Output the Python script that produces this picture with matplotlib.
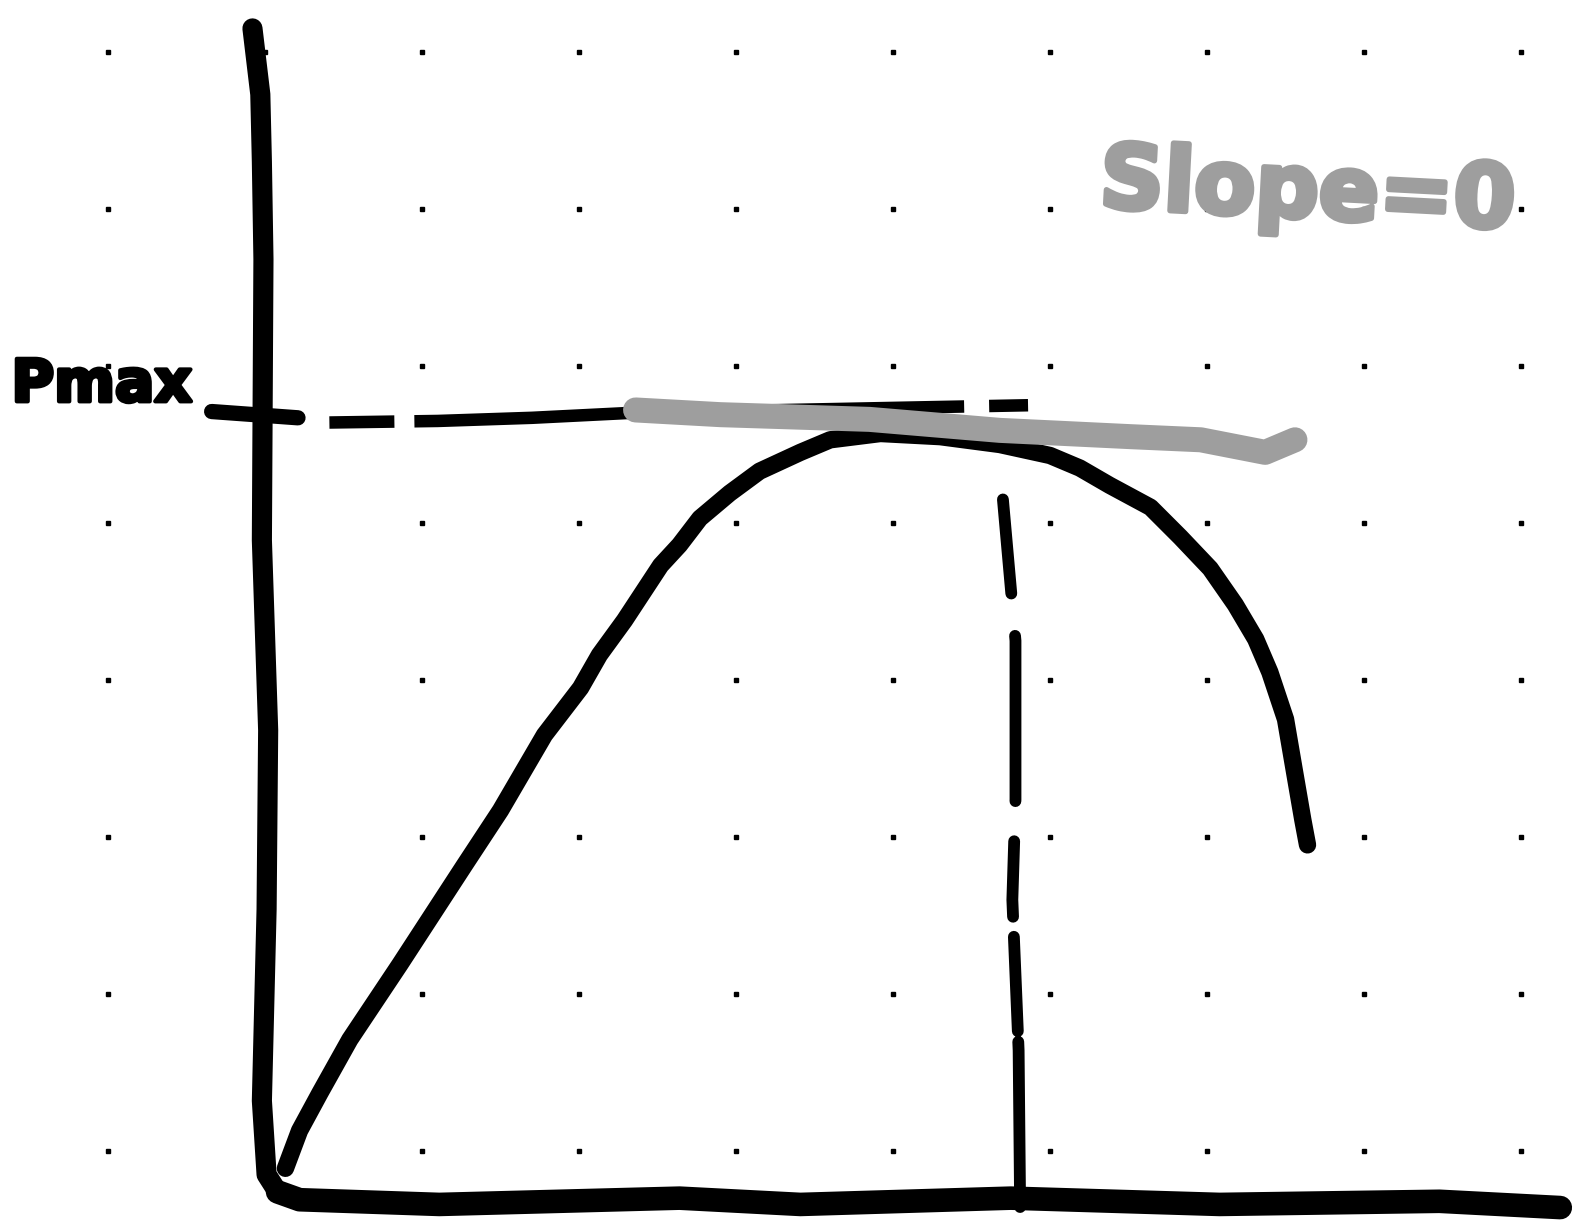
import matplotlib
matplotlib.use("Agg")
import matplotlib.pyplot as plt
import matplotlib.patheffects as pe
import numpy as np

# ---- data (grid units: one dot spacing = 1) ----
dot_x = [-1, 0, 1, 2, 3, 4, 5, 6, 7, 8]
dot_y = [0, 1, 2, 3, 4, 5, 6, 7]

yaxis_x = [-0.08, -0.03, -0.02, -0.01, -0.02, 0.02, 0.01, -0.02, 0.01, 0.08]
yaxis_y = [7.15, 6.73, 6.30, 5.68, 3.89, 2.68, 1.54, 0.32, -0.15, -0.26]

xaxis_x = [0.08, 0.22, 1.11, 2.64, 3.41, 4.75, 6.08, 7.48, 8.25]
xaxis_y = [-0.26, -0.31, -0.34, -0.30, -0.34, -0.30, -0.34, -0.32, -0.36]

curve_x = [0.13, 0.22, 0.35, 0.54, 0.86, 1.27, 1.50, 1.78, 2.01, 2.13, 2.29,
           2.52, 2.64, 2.77, 2.96, 3.15, 3.41, 3.60, 3.92, 4.30, 4.68, 5.00,
           5.19, 5.38, 5.64, 5.83, 6.02, 6.18, 6.31, 6.40, 6.50, 6.56, 6.61, 6.64]
curve_y = [-0.11, 0.13, 0.37, 0.71, 1.19, 1.82, 2.17, 2.65, 2.95, 3.16, 3.38,
           3.73, 3.86, 4.03, 4.19, 4.33, 4.45, 4.53, 4.57, 4.55, 4.50, 4.43,
           4.35, 4.24, 4.10, 3.91, 3.71, 3.48, 3.26, 3.05, 2.75, 2.40, 2.11, 1.95]

pmax_tick_x = [-0.34, 0.21]
pmax_tick_y = [4.71, 4.67]

pmax_line_x = [0.41, 1.10, 1.70, 2.30, 4.86]
pmax_line_y = [4.64, 4.65, 4.67, 4.70, 4.75]

vline_x = [4.70, 4.78, 4.78, 4.76, 4.80, 4.81]
vline_y = [4.15, 3.25, 2.24, 1.60, 0.64, -0.41]

tangent_x = [2.36, 2.90, 3.85, 4.68, 5.51, 5.96, 6.37, 6.56]
tangent_y = [4.72, 4.69, 4.66, 4.59, 4.55, 4.53, 4.45, 4.53]

label_pmax = "Pmax"
label_pmax_pos = (-1.04, 4.88)
label_slope = "Slope=0"
label_slope_pos = (6.64, 6.10)

# ---- figure ----
fig = plt.figure(figsize=(15.73, 12.25), dpi=100)
ax = fig.add_axes([0, 0, 1, 1])
ax.set_xlim(-1.688, 8.331)
ax.set_ylim(-0.471, 7.331)
ax.axis("off")

gx, gy = np.meshgrid(dot_x, dot_y)
ax.plot(gx.ravel(), gy.ravel(), linestyle="none", marker="s", markersize=3.5,
        color="black", zorder=1)

ax.plot(yaxis_x, yaxis_y, color="black", lw=14.5, solid_capstyle="round",
        solid_joinstyle="round", zorder=3)
ax.plot(xaxis_x, xaxis_y, color="black", lw=17, solid_capstyle="round",
        solid_joinstyle="round", zorder=3)
ax.plot(curve_x, curve_y, color="black", lw=12.5, solid_capstyle="round",
        solid_joinstyle="round", zorder=3)
ax.plot(pmax_tick_x, pmax_tick_y, color="black", lw=11, solid_capstyle="round",
        zorder=3)
ax.plot(pmax_line_x, pmax_line_y, color="black", lw=9, zorder=3,
        linestyle=(0, (5.2, 1.6, 25, 3, 16, 2, 27, 2)), dash_capstyle="butt")
ax.plot(vline_x, vline_y, color="black", lw=8.5, zorder=3,
        linestyle=(0, (8, 3.6, 14, 3.4, 6.4, 1.7, 8, 0.9, 14, 2)),
        dash_capstyle="round")
ax.plot(tangent_x, tangent_y, color="#9e9e9e", lw=18, solid_capstyle="round",
        solid_joinstyle="round", zorder=4)

fam = ["DejaVu Sans"]
ax.text(*label_pmax_pos, label_pmax, fontsize=42, fontweight="bold",
        family=fam, ha="center", va="center", color="black",
        path_effects=[pe.withStroke(linewidth=3, foreground="black")], zorder=5)
ax.text(*label_slope_pos, label_slope, fontsize=64, fontweight="bold",
        family=fam, ha="center", va="center", color="#9e9e9e", rotation=-3,
        path_effects=[pe.withStroke(linewidth=4, foreground="#9e9e9e")], zorder=5)

fig.savefig("out.png", dpi=100, facecolor="white")
